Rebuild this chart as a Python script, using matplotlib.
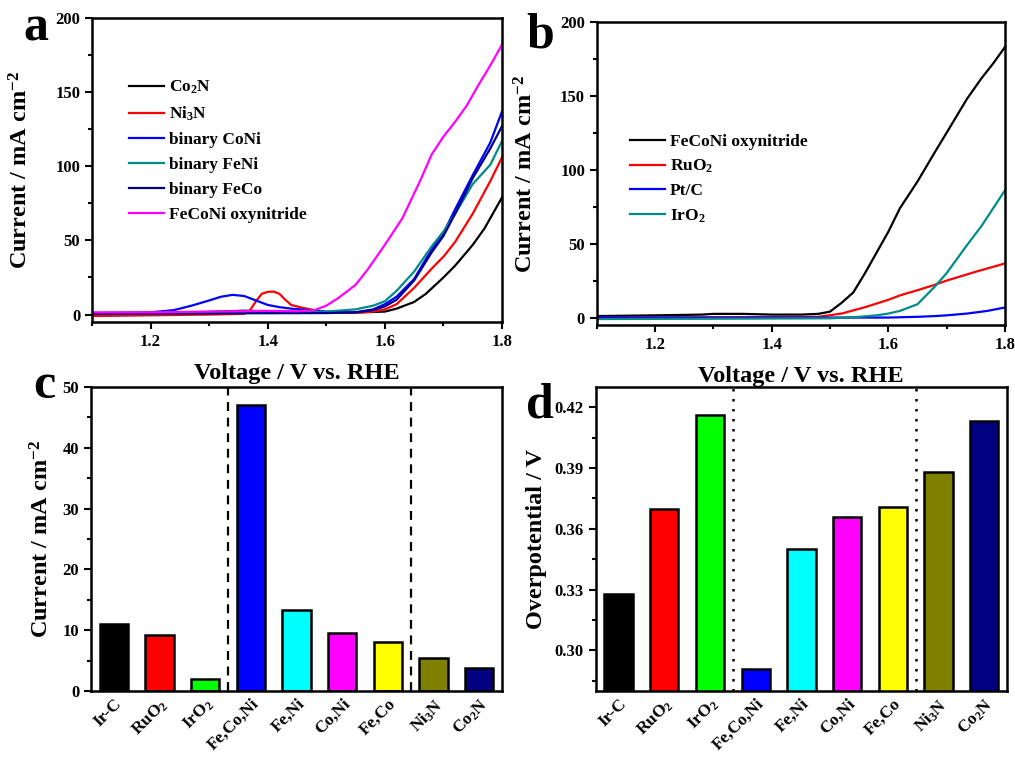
import numpy as np
import matplotlib
matplotlib.use("Agg")
import matplotlib.pyplot as plt
from matplotlib.ticker import MultipleLocator

plt.rcParams['font.family'] = ['Liberation Serif', 'DejaVu Serif']
plt.rcParams['font.weight'] = 'bold'
plt.rcParams['mathtext.fontset'] = 'custom'
plt.rcParams['mathtext.rm'] = 'Liberation Serif:bold'
plt.rcParams['mathtext.it'] = 'Liberation Serif:bold:italic'
plt.rcParams['mathtext.bf'] = 'Liberation Serif:bold'
plt.rcParams['mathtext.default'] = 'rm'

# ---- panel a: LSV curves ----
v_co2n = [1.10, 1.20, 1.30, 1.36, 1.42, 1.48, 1.55, 1.60, 1.62, 1.65, 1.67, 1.70, 1.72, 1.75, 1.77, 1.80]
i_co2n = [0.8, 1.0, 1.8, 2.6, 2.0, 1.3, 1.4, 2.0, 4.0, 8.5, 14, 25, 33, 47, 58, 79]

v_ni3n = [1.10, 1.20, 1.30, 1.36, 1.37, 1.38, 1.39, 1.40, 1.41, 1.42, 1.43, 1.44, 1.46, 1.48, 1.50,
          1.55, 1.58, 1.60, 1.62, 1.65, 1.68, 1.70, 1.72, 1.75, 1.78, 1.80]
i_ni3n = [-1.0, -0.5, 0.0, 0.5, 3, 9, 14, 15.3, 15.5, 14, 10, 6.5, 4.5, 3, 1.5,
          1.2, 2.0, 3.5, 7, 18, 31, 39, 49, 68, 90, 106]

v_coni = [1.10, 1.20, 1.24, 1.27, 1.30, 1.32, 1.34, 1.36, 1.38, 1.40, 1.42, 1.44, 1.47, 1.50,
          1.55, 1.58, 1.60, 1.62, 1.65, 1.68, 1.70, 1.72, 1.75, 1.78, 1.80]
i_coni = [1.0, 1.5, 3, 6, 9.5, 12, 13.3, 12.5, 9.5, 6.5, 5, 4, 3, 2,
          1.5, 3.5, 7, 12, 24, 44, 55, 71, 94, 116, 137]

v_feni = [1.10, 1.30, 1.45, 1.50, 1.55, 1.58, 1.60, 1.62, 1.65, 1.68, 1.70, 1.72, 1.75, 1.78, 1.80]
i_feni = [0.5, 1.0, 1.5, 2.0, 3.5, 6, 9, 16, 29, 46, 56, 68, 88, 101, 117]

v_feco = [1.10, 1.30, 1.50, 1.55, 1.58, 1.60, 1.62, 1.65, 1.68, 1.70, 1.72, 1.75, 1.78, 1.80]
i_feco = [0.5, 0.8, 1.0, 1.5, 3, 5.5, 10, 23, 42, 53, 68, 92, 112, 127]

v_fcn = [1.10, 1.20, 1.30, 1.40, 1.45, 1.48, 1.50, 1.52, 1.55, 1.57, 1.60, 1.63, 1.66, 1.68,
         1.70, 1.72, 1.74, 1.76, 1.78, 1.80]
i_fcn = [1.5, 1.5, 2.0, 2.5, 2.2, 3, 6, 11, 20, 30, 47, 65, 90, 108, 120, 130, 141, 155, 168, 182]

labels_a = ['Co$_2$N', 'Ni$_3$N', 'binary CoNi', 'binary FeNi', 'binary FeCo', 'FeCoNi oxynitride']
colors_a = ['black', 'red', 'blue', '#008b8b', '#00008b', 'magenta']

# ---- panel b: comparison with noble catalysts ----
v_b_fcn = [1.10, 1.20, 1.28, 1.30, 1.35, 1.40, 1.45, 1.48, 1.50, 1.52, 1.54, 1.56, 1.58, 1.60,
           1.62, 1.65, 1.68, 1.70, 1.735, 1.76, 1.78, 1.80]
i_b_fcn = [1.0, 1.5, 2.0, 2.5, 2.5, 2.0, 2.0, 2.5, 4, 10, 17, 30, 44, 58,
           74, 92, 112, 125, 148, 162, 172, 183]

v_ruo2 = [1.10, 1.40, 1.48, 1.52, 1.56, 1.60, 1.62, 1.65, 1.676, 1.70, 1.75, 1.80]
i_ruo2 = [0.0, 0.3, 0.5, 2.7, 7, 12, 15, 18.5, 21.7, 25, 31, 36.6]

v_ptc = [1.10, 1.60, 1.65, 1.68, 1.70, 1.735, 1.77, 1.80]
i_ptc = [0.0, 0.0, 0.5, 1.0, 1.5, 2.7, 4.5, 6.8]

v_iro2 = [1.10, 1.30, 1.50, 1.55, 1.58, 1.60, 1.62, 1.65, 1.68, 1.70, 1.735, 1.76, 1.78, 1.80]
i_iro2 = [-1.0, -0.8, -0.5, 0.5, 1.5, 2.7, 4.5, 9, 21, 30, 49, 62, 74, 86]

labels_b = ['FeCoNi oxynitride', 'RuO$_2$', 'Pt/C', 'IrO$_2$']
colors_b = ['black', 'red', 'blue', '#008b8b']

# ---- panels c, d: bars ----
catalysts = ['Ir-C', 'RuO$_2$', 'IrO$_2$', 'Fe,Co,Ni', 'Fe,Ni', 'Co,Ni', 'Fe,Co', 'Ni$_3$N', 'Co$_2$N']
current_c = [11.0, 9.2, 2.0, 47.0, 13.3, 9.5, 8.1, 5.4, 3.8]
overpot_d = [0.328, 0.370, 0.416, 0.291, 0.350, 0.366, 0.371, 0.388, 0.413]
bar_colors = ['black', 'red', '#00ff00', 'blue', 'cyan', 'magenta', 'yellow', '#808000', '#000080']

fig = plt.figure(figsize=(10.15, 7.61), dpi=100)
ax_a = fig.add_axes([0.0906, 0.5769, 0.404, 0.3995])
ax_b = fig.add_axes([0.588, 0.573, 0.402, 0.398])
ax_c = fig.add_axes([0.0897, 0.092, 0.405, 0.3995])
ax_d = fig.add_axes([0.587, 0.092, 0.405, 0.3995])

LABEL_FS = 17.5


def style(ax):
    for s in ax.spines.values():
        s.set_linewidth(1.8)
    ax.tick_params(which='both', direction='out', top=False, right=False, width=1.5, labelsize=12)
    ax.tick_params(which='major', length=5)
    ax.tick_params(which='minor', length=3)
    for t in ax.get_xticklabels() + ax.get_yticklabels():
        t.set_fontweight('bold')


curves_a = [(v_co2n, i_co2n), (v_ni3n, i_ni3n), (v_coni, i_coni),
            (v_feni, i_feni), (v_feco, i_feco), (v_fcn, i_fcn)]
for (v, i), lab, c in zip(curves_a, labels_a, colors_a):
    ax_a.plot(v, i, color=c, lw=1.6, label=lab)

curves_b = [(v_b_fcn, i_b_fcn), (v_ruo2, i_ruo2), (v_ptc, i_ptc), (v_iro2, i_iro2)]
for (v, i), lab, c in zip(curves_b, labels_b, colors_b):
    ax_b.plot(v, i, color=c, lw=1.6, label=lab)

for ax in (ax_a, ax_b):
    ax.set_xlim(1.1, 1.8)
    ax.set_ylim(-5, 200)
    ax.set_xticks([1.2, 1.4, 1.6, 1.8])
    ax.xaxis.set_minor_locator(MultipleLocator(0.1))
    ax.yaxis.set_major_locator(MultipleLocator(50))
    ax.yaxis.set_minor_locator(MultipleLocator(25))
    ax.set_xlabel('Voltage / V vs. RHE', fontsize=LABEL_FS, fontweight='bold')
    ax.set_ylabel('Current / mA cm$^{-2}$', fontsize=LABEL_FS, fontweight='bold')
    ax.xaxis.set_label_coords(0.5, -0.135)
    style(ax)

ax_a.yaxis.set_label_coords(-0.145, 0.5)
ax_b.yaxis.set_label_coords(-0.145, 0.5)

ax_a.legend(loc='upper left', bbox_to_anchor=(0.09, 0.80), frameon=False, borderpad=0,
            borderaxespad=0, handlelength=2.0, handletextpad=0.3, labelspacing=0.5,
            prop={'size': 12.5, 'weight': 'bold'})
ax_b.legend(loc='upper left', bbox_to_anchor=(0.081, 0.63), frameon=False, borderpad=0,
            borderaxespad=0, handlelength=2.0, handletextpad=0.3, labelspacing=0.45,
            prop={'size': 12.5, 'weight': 'bold'})

x = np.arange(len(catalysts))
ax_c.bar(x, current_c, width=0.62, color=bar_colors, edgecolor='black', linewidth=1.8)
ax_c.set_ylim(0, 50)
ax_c.yaxis.set_major_locator(MultipleLocator(10))
ax_c.yaxis.set_minor_locator(MultipleLocator(5))
ax_c.set_ylabel('Current / mA cm$^{-2}$', fontsize=LABEL_FS, fontweight='bold')
ax_c.yaxis.set_label_coords(-0.092, 0.5)
for xv in (2.5, 6.5):
    ax_c.axvline(xv, color='black', ls=(0, (4, 3)), lw=1.6)

ax_d.bar(x, overpot_d, width=0.62, color=bar_colors, edgecolor='black', linewidth=1.8)
ax_d.set_ylim(0.28, 0.43)
ax_d.yaxis.set_major_locator(MultipleLocator(0.03))
ax_d.yaxis.set_minor_locator(MultipleLocator(0.015))
ax_d.set_ylabel('Overpotential / V', fontsize=LABEL_FS, fontweight='bold')
ax_d.yaxis.set_label_coords(-0.119, 0.5)
for xv in (2.5, 6.5):
    ax_d.axvline(xv, color='black', ls=(0, (1, 3)), lw=1.8)

for ax in (ax_c, ax_d):
    ax.set_xlim(-0.5, 8.5)
    ax.set_xticks(x)
    ax.set_xticklabels(catalysts, rotation=45, ha='right', rotation_mode='anchor')
    style(ax)
    ax.tick_params(axis='x', which='both', length=0, labelsize=12.5)
ax_d.yaxis.set_major_formatter(matplotlib.ticker.FormatStrFormatter('%.2f'))

fig.text(0.035, 0.947, 'a', fontsize=36, fontweight='bold', ha='center', va='baseline')
fig.text(0.532, 0.938, 'b', fontsize=36, fontweight='bold', ha='center', va='baseline')
fig.text(0.044, 0.477, 'c', fontsize=36, fontweight='bold', ha='center', va='baseline')
fig.text(0.532, 0.452, 'd', fontsize=36, fontweight='bold', ha='center', va='baseline')

fig.savefig('out.png', dpi=100)
